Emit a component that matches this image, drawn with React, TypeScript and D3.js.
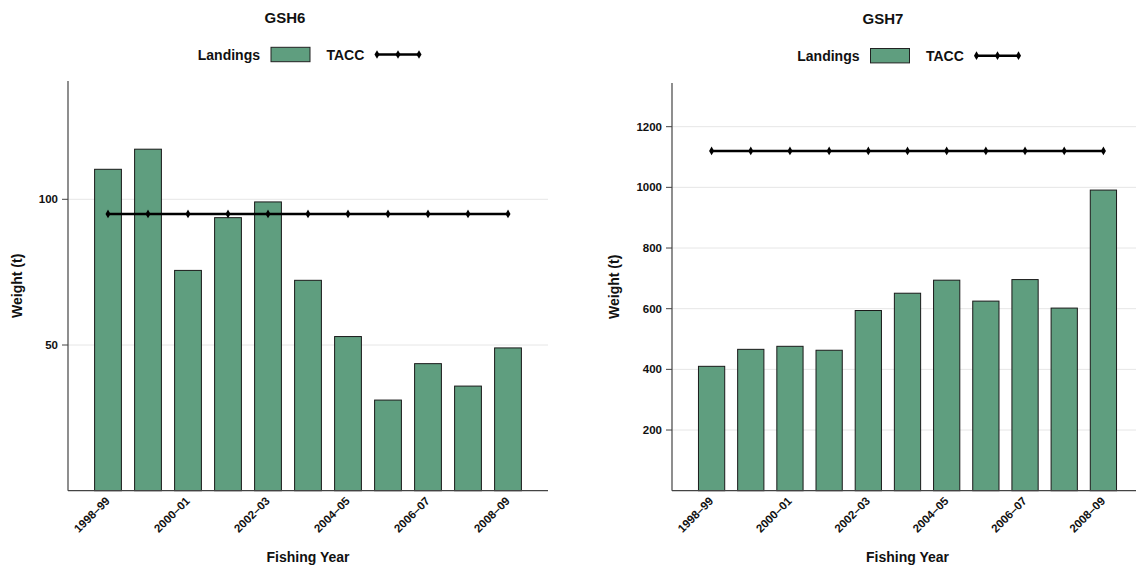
import React from 'react';
import * as d3 from 'd3';

const categories = ['1998–99', '1999–00', '2000–01', '2001–02', '2002–03', '2003–04', '2004–05', '2005–06', '2006–07', '2007–08', '2008–09'];
const tickLabels = ['1998–99', '2000–01', '2002–03', '2004–05', '2006–07', '2008–09'];

const gsh6Landings = [110.3, 117.2, 75.6, 93.7, 99.1, 72.2, 52.9, 31.1, 43.6, 35.9, 49.0];
const gsh6Tacc = [95, 95, 95, 95, 95, 95, 95, 95, 95, 95, 95];
const gsh6YTicks = [50, 100];

const gsh7Landings = [410, 466, 476, 463, 594, 651, 694, 625, 696, 602, 991];
const gsh7Tacc = [1120, 1120, 1120, 1120, 1120, 1120, 1120, 1120, 1120, 1120, 1120];
const gsh7YTicks = [200, 400, 600, 800, 1000, 1200];

const FONT = '"Liberation Sans", Arial, Helvetica, sans-serif';
const BAR_FILL = '#5f9e7f';

type PanelProps = {
  title: string;
  landings: number[];
  tacc: number[];
  yTicks: number[];
  yMax: number;
  left: number;
  right: number;
  top: number;
  bottom: number;
  dy: number;
  yTitleX: number;
  titleX: number;
  clipRight: number;
};

function Panel(p: PanelProps) {
  const x = d3
    .scaleBand<string>()
    .domain(categories)
    .range([p.left + 20, p.right - 20])
    .paddingInner(0.33)
    .paddingOuter(0.165);
  const y = d3.scaleLinear().domain([0, p.yMax]).range([p.bottom, p.top]);
  const bw = x.bandwidth();
  const cx = (c: string) => (x(c) as number) + bw / 2;
  const line = d3
    .line<number>()
    .x((_, i) => cx(categories[i]))
    .y((v) => y(v));
  const diamond = d3.symbol().type(d3.symbolDiamond).size(22)() as string;
  const plotCenter = (p.left + p.right) / 2;
  const gridRight = Math.min(p.right, p.clipRight);

  // legend geometry relative to plot centre
  const lg = plotCenter - 110;
  const legY = 54.5 + p.dy;

  return (
    <g fontFamily={FONT} fontWeight="bold" fill="#111">
      <text x={p.titleX} y={23 + p.dy} textAnchor="middle" fontSize={15}>
        {p.title}
      </text>
      {/* legend */}
      <text x={lg + 62} y={legY + 5} textAnchor="end" fontSize={14}>
        Landings
      </text>
      <rect x={lg + 73} y={legY - 7.2} width={39} height={14.4} fill={BAR_FILL} stroke="#222" strokeWidth={1} />
      <text x={lg + 128.5} y={legY + 5} fontSize={14}>
        TACC
      </text>
      <line x1={lg + 179} x2={lg + 221} y1={legY} y2={legY} stroke="#000" strokeWidth={2.5} />
      {[179, 200, 221].map((o) => (
        <path key={o} d={diamond} transform={`translate(${lg + o},${legY})`} fill="#000" />
      ))}

      {/* gridlines */}
      {p.yTicks.map((t) => (
        <line key={'g' + t} x1={p.left} x2={gridRight} y1={y(t)} y2={y(t)} stroke="#e6e6e6" strokeWidth={1} />
      ))}

      {/* bars */}
      {categories.map((c, i) => (
        <rect
          key={c}
          x={x(c)}
          y={y(p.landings[i])}
          width={bw}
          height={p.bottom - y(p.landings[i])}
          fill={BAR_FILL}
          stroke="#1a1a1a"
          strokeWidth={1}
        />
      ))}

      {/* TACC line */}
      <path d={line(p.tacc) as string} fill="none" stroke="#000" strokeWidth={2.5} />
      {p.tacc.map((v, i) => (
        <path key={'m' + i} d={diamond} transform={`translate(${cx(categories[i])},${y(v)})`} fill="#000" />
      ))}

      {/* axes */}
      <line x1={p.left} x2={p.left} y1={p.top} y2={p.bottom} stroke="#444" strokeWidth={1.2} />
      <line x1={p.left} x2={gridRight} y1={p.bottom} y2={p.bottom} stroke="#444" strokeWidth={1.2} />
      {p.yTicks.map((t) => (
        <g key={'t' + t}>
          <line x1={p.left - 6} x2={p.left} y1={y(t)} y2={y(t)} stroke="#444" strokeWidth={1} />
          <text x={p.left - 10} y={y(t)} dy="0.35em" textAnchor="end" fontSize={11.5}>
            {t}
          </text>
        </g>
      ))}
      {tickLabels.map((c) => (
        <text
          key={'x' + c}
          transform={`translate(${cx(c) + 2.5},${p.bottom + 11}) rotate(-45)`}
          textAnchor="end"
          fontSize={11.5}
        >
          {c}
        </text>
      ))}
      <text x={plotCenter} y={562} textAnchor="middle" fontSize={14}>
        Fishing Year
      </text>
      <text
        transform={`translate(${p.yTitleX},${(p.top + p.bottom) / 2}) rotate(-90)`}
        textAnchor="middle"
        dy="0.35em"
        fontSize={14}
      >
        Weight (t)
      </text>
    </g>
  );
}

export default function App() {
  return (
    <div style={{ position: 'absolute', left: 0, top: 0 }}>
      <svg width={1136} height={566} style={{ display: 'block', background: '#fff' }}>
        <Panel
          title="GSH6"
          landings={gsh6Landings}
          tacc={gsh6Tacc}
          yTicks={gsh6YTicks}
          yMax={140.6}
          left={68}
          right={548}
          top={81}
          bottom={490.7}
          dy={0}
          yTitleX={17}
          titleX={285}
          clipRight={1136}
        />
        <Panel
          title="GSH7"
          landings={gsh7Landings}
          tacc={gsh7Tacc}
          yTicks={gsh7YTicks}
          yMax={1344}
          left={672}
          right={1143}
          top={83}
          bottom={490.7}
          dy={1.2}
          yTitleX={614}
          titleX={883}
          clipRight={1136}
        />
      </svg>
    </div>
  );
}
